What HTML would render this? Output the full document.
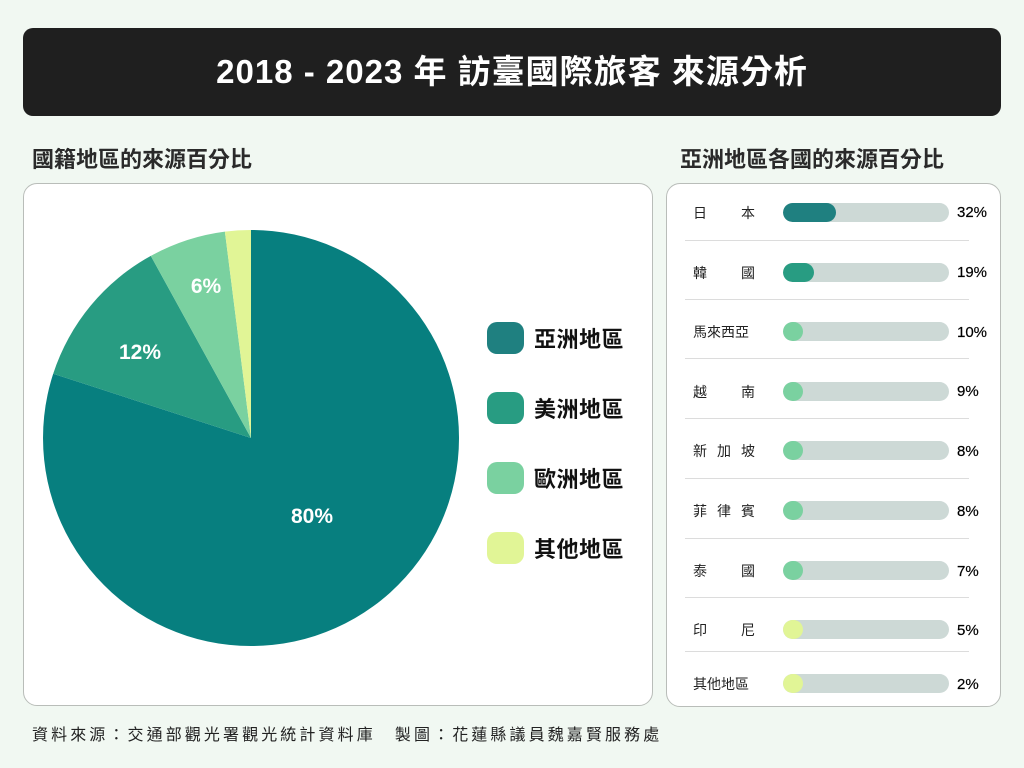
<!DOCTYPE html>
<html><head><meta charset="utf-8"><style>
*{margin:0;padding:0;box-sizing:border-box}
body{width:1024px;height:768px;background:#f1f8f2;font-family:"Liberation Sans","Noto Sans CJK TC",sans-serif;position:relative;overflow:hidden;color:#222}
.a{position:absolute}
.title{left:23px;top:28px;width:978px;height:88px;background:#1f1f1f;border-radius:10px;color:#fff;font-size:33px;font-weight:bold;text-align:center;line-height:88px;letter-spacing:1px}
.h{font-size:22px;font-weight:bold;color:#2a2a2a;white-space:nowrap}
.panel{background:#fff;border:1px solid #b9bdb9;border-radius:14px}
.lab{left:693px;font-size:14px;color:#222;width:62px;display:flex;justify-content:space-between}
.bar{left:783px;width:166px;height:19px;border-radius:10px;background:#cdd9d6;overflow:hidden}
.bar div{height:19px;border-radius:10px}
.pct{left:957px;font-size:15px;color:#000;-webkit-text-stroke:0.2px #000}
.sep{left:685px;width:284px;height:1px;background:#dcdcdc}
.leg{left:487px;width:37px;height:32px;border-radius:10px}
.lt{left:534px;font-size:22px;font-weight:bold;color:#111;letter-spacing:0.5px}
</style></head><body>
<div class="a title">2018 - 2023 年 訪臺國際旅客 來源分析</div>
<div class="a h" style="left:32px;top:142px">國籍地區的來源百分比</div>
<div class="a h" style="left:680px;top:142px">亞洲地區各國的來源百分比</div>
<div class="a panel" style="left:23px;top:183px;width:630px;height:523px"></div>
<div class="a panel" style="left:666px;top:183px;width:335px;height:524px"></div>
<svg class="a" style="left:0;top:0" width="1024" height="768">
<path d="M251,438 L251,230 A208,208 0 1 1 53.2,373.7 Z" fill="#077f7f"/>
<path d="M251,438 L53.2,373.7 A208,208 0 0 1 150.8,255.9 Z" fill="#289c82"/>
<path d="M251,438 L150.8,255.9 A208,208 0 0 1 224.9,231.6 Z" fill="#7ad1a0"/>
<path d="M251,438 L224.9,231.6 A208,208 0 0 1 251,230 Z" fill="#e1f596"/>
<g fill="#fff" font-weight="bold" font-size="21" font-family="Liberation Sans,sans-serif" text-anchor="middle">
<text x="312" y="523">80%</text><text x="140" y="359">12%</text><text x="206" y="293">6%</text></g>
</svg>
<div class="a leg" style="top:322px;background:#1f8080"></div><div class="a lt" style="top:322px">亞洲地區</div>
<div class="a leg" style="top:392px;background:#289c82"></div><div class="a lt" style="top:392px">美洲地區</div>
<div class="a leg" style="top:462px;background:#7ad1a0"></div><div class="a lt" style="top:462px">歐洲地區</div>
<div class="a leg" style="top:532px;background:#e1f596"></div><div class="a lt" style="top:532px">其他地區</div>

<div class="a lab" style="top:203px"><span>日</span><span>本</span></div>
<div class="a bar" style="top:203px"><div style="width:53px;background:#1f8080"></div></div><div class="a pct" style="top:204px">32%</div>
<div class="a sep" style="top:240px"></div>
<div class="a lab" style="top:263px"><span>韓</span><span>國</span></div>
<div class="a bar" style="top:263px"><div style="width:31px;background:#289c82"></div></div><div class="a pct" style="top:264px">19%</div>
<div class="a sep" style="top:299px"></div>
<div class="a lab" style="top:322px"><span>馬來西亞</span></div>
<div class="a bar" style="top:322px"><div style="width:20px;background:#7ad1a0"></div></div><div class="a pct" style="top:324px">10%</div>
<div class="a sep" style="top:358px"></div>
<div class="a lab" style="top:382px"><span>越</span><span>南</span></div>
<div class="a bar" style="top:382px"><div style="width:20px;background:#7ad1a0"></div></div><div class="a pct" style="top:383px">9%</div>
<div class="a sep" style="top:418px"></div>
<div class="a lab" style="top:441px"><span>新</span><span>加</span><span>坡</span></div>
<div class="a bar" style="top:441px"><div style="width:20px;background:#7ad1a0"></div></div><div class="a pct" style="top:443px">8%</div>
<div class="a sep" style="top:478px"></div>
<div class="a lab" style="top:501px"><span>菲</span><span>律</span><span>賓</span></div>
<div class="a bar" style="top:501px"><div style="width:20px;background:#7ad1a0"></div></div><div class="a pct" style="top:503px">8%</div>
<div class="a sep" style="top:538px"></div>
<div class="a lab" style="top:561px"><span>泰</span><span>國</span></div>
<div class="a bar" style="top:561px"><div style="width:20px;background:#7ad1a0"></div></div><div class="a pct" style="top:563px">7%</div>
<div class="a sep" style="top:597px"></div>
<div class="a lab" style="top:620px"><span>印</span><span>尼</span></div>
<div class="a bar" style="top:620px"><div style="width:20px;background:#e1f596"></div></div><div class="a pct" style="top:622px">5%</div>
<div class="a sep" style="top:651px"></div>
<div class="a lab" style="top:674px"><span>其他地區</span></div>
<div class="a bar" style="top:674px"><div style="width:20px;background:#e1f596"></div></div><div class="a pct" style="top:676px">2%</div>

<div class="a" style="left:32px;top:721px;font-size:16px;color:#222;letter-spacing:3.1px;white-space:nowrap">資料來源：交通部觀光署觀光統計資料庫　製圖：花蓮縣議員魏嘉賢服務處</div>
</body></html>
